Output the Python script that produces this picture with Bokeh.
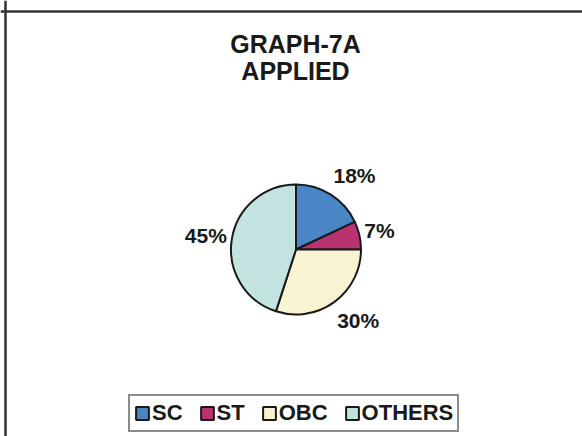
import math
from bokeh.plotting import figure
from bokeh.models import ColumnDataSource, Range1d, Span, Label
from bokeh.core.properties import value
from bokeh.embed import file_html
from bokeh.resources import INLINE

# ---- data ----
categories = ["SC", "ST", "OBC", "OTHERS"]
shares = [18, 7, 30, 45]
colors = ["#4a86c6", "#b8336f", "#f8f4d2", "#c2e3e0"]
title_lines = ["GRAPH-7A", "APPLIED"]

W, H = 582, 436
FONT = "Liberation Sans"

p = figure(width=W, height=H, output_backend="svg", toolbar_location=None,
           x_range=Range1d(0, W), y_range=Range1d(0, H),
           min_border=0, outline_line_color=None)
p.axis.visible = False
p.grid.visible = False
p.background_fill_color = "white"
p.border_fill_color = "white"

# frame lines (left and top visible in reference)
p.add_layout(Span(location=5, dimension="height", line_color="#333333", line_width=2.5))
p.add_layout(Span(location=H - 11, dimension="width", line_color="#333333", line_width=2.5))

# title
p.add_layout(Label(x=295, y=H - 43, text=title_lines[0], text_align="center",
                   text_baseline="middle", text_font=FONT, text_font_style="bold",
                   text_font_size="25px", text_color="#1a1a1a"))
p.add_layout(Label(x=295, y=H - 70, text=title_lines[1], text_align="center",
                   text_baseline="middle", text_font=FONT, text_font_style="bold",
                   text_font_size="25px", text_color="#1a1a1a"))

# pie
cx, cy, R = 295.5, H - 249, 65
total = float(sum(shares))
starts, ends, lx, ly, labels, aligns = [], [], [], [], [], []
acc = 0.0
for s in shares:
    a0 = math.pi / 2 - acc / total * 2 * math.pi
    a1 = math.pi / 2 - (acc + s) / total * 2 * math.pi
    starts.append(a0)
    ends.append(a1)
    mid = (a0 + a1) / 2
    c = math.cos(mid)
    lx.append(cx + 70 * c)
    ly.append(cy + 88 * math.sin(mid))
    aligns.append("left" if c >= 0 else "right")
    labels.append(f"{s}%")
    acc += s

src = ColumnDataSource(dict(cat=categories, start=starts, end=ends, color=colors))
p.wedge(x=cx, y=cy, radius=R, start_angle="start", end_angle="end", direction="clock",
        fill_color="color", line_color="#1a1a1a", line_width=2, source=src,
        legend_field="cat")

lsrc = ColumnDataSource(dict(x=lx, y=ly, t=labels, a=aligns))
p.text(x="x", y="y", text="t", source=lsrc, text_align="a", text_baseline="middle",
       text_font=value(FONT), text_font_style="bold", text_font_size="21px",
       text_color="#1a1a1a")

lg = p.legend[0]
lg.orientation = "horizontal"
lg.location = (128, 4)
lg.margin = 0
lg.padding = 4
lg.spacing = 16
lg.label_standoff = 2
lg.glyph_width = 16
lg.glyph_height = 16
lg.label_text_font = FONT
lg.label_text_font_style = "bold"
lg.label_text_font_size = "22px"
lg.label_text_color = "#1a1a1a"
lg.border_line_color = "#1a1a1a"
lg.border_line_width = 2
lg.background_fill_alpha = 1

open("out.html", "w").write(file_html(p, INLINE))
